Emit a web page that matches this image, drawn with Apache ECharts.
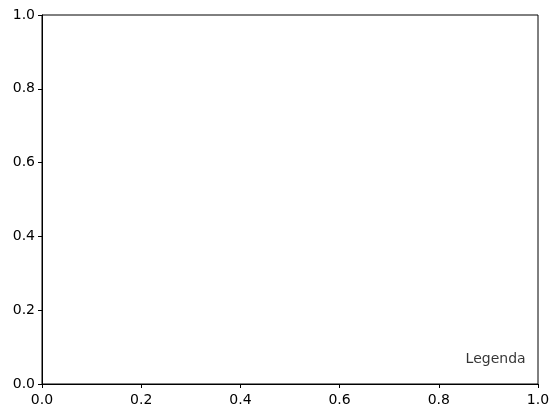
<!DOCTYPE html>
<html>
<head>
<meta charset="utf-8">
<script src="https://cdn.jsdelivr.net/npm/echarts@6/dist/echarts.min.js"></script>
<style>
  html, body { margin: 0; padding: 0; background: #fff; }
  #chart { width: 558px; height: 418px; }
</style>
</head>
<body>
<div id="chart"></div>
<script>
// empty axes, only a text note in the lower right
const axisMin = 0;
const axisMax = 1;
const tickStep = 0.2;
const notePoint = [0.85, 0.05];
const noteText = 'Legenda';

let myChart = echarts.init(document.getElementById('chart'), null, { renderer: 'canvas' });

const font = 'DejaVu Sans';
function axisCfg(gap) {
    return {
        type: 'value',
        min: axisMin,
        max: axisMax,
        interval: tickStep,
        axisLine: { show: true, lineStyle: { color: '#000', width: 1 } },
        axisTick: { show: true, inside: false, length: 4, lineStyle: { color: '#000', width: 1 } },
        splitLine: { show: false },
        axisLabel: {
            color: '#000',
            fontFamily: font,
            fontSize: 14,
            margin: gap,
            formatter: v => v.toFixed(1)
        }
    };
}

let option = {
    animation: false,
    backgroundColor: '#fff',
    grid: {
        left: 42, right: 20, top: 15, bottom: 34,
        show: true, borderColor: '#000', borderWidth: 1,
        containLabel: false
    },
    xAxis: axisCfg(9),
    yAxis: axisCfg(7),
    series: [{
        type: 'scatter',
        symbolSize: 0,
        data: [notePoint],
        label: {
            show: true,
            formatter: noteText,
            position: [2, 1],
            align: 'left',
            verticalAlign: 'bottom',
            color: '#000',
            fontFamily: font,
            fontSize: 14
        }
    }]
};
myChart.setOption(option);
</script>
</body>
</html>
